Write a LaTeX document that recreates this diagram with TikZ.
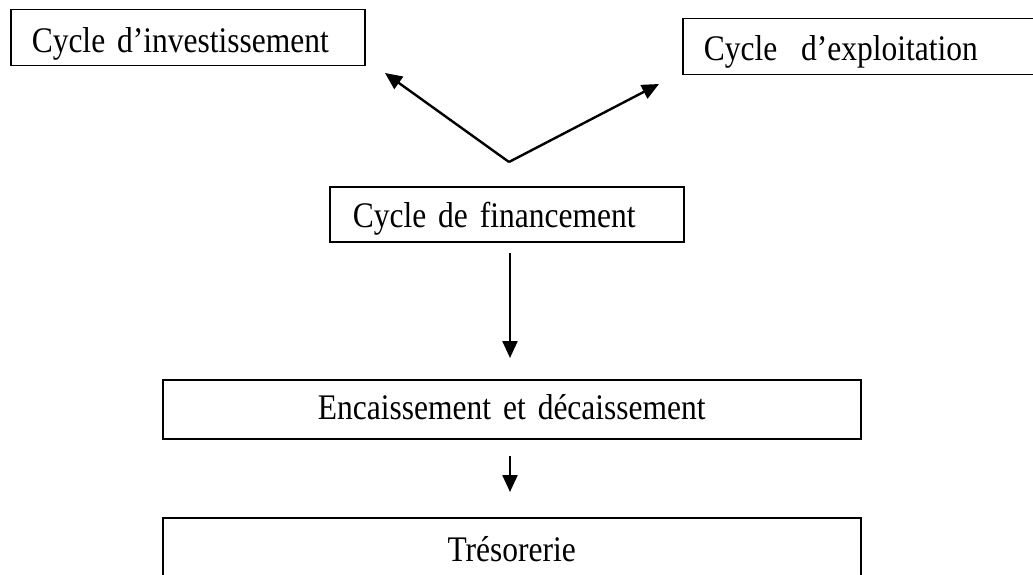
\documentclass[tikz,border=0pt]{standalone}
\usepackage{fontspec}
\setmainfont{Liberation Serif}[FakeStretch=0.875]
\DeclareRobustCommand\mywordspace[1]{\fontdimen2\font=#1\relax}
\usetikzlibrary{arrows.meta}
\begin{document}
\begin{tikzpicture}[x=1pt,y=-1pt,
  box/.style={draw=black, line width=1.5pt, rectangle, inner ysep=0pt,
    anchor=north west, font=\fontsize{36}{40}\selectfont\mywordspace{6.5pt}},
  conn/.style={line width=2.4pt, -{Triangle[length=17pt,width=15pt]}}]
\useasboundingbox (0,0) rectangle (1033,575);
% boxes
\node[box, minimum width=354pt, text height=43pt, text depth=13pt, inner xsep=21pt,
  text width=312pt, align=left] (inv) at (10,9) {Cycle d’investissement};
\node[box, minimum width=363pt, text height=42pt, text depth=14pt, inner xsep=21pt,
  text width=321pt, align=left] (exp) at (682,18) {Cycle\ \ d’exploitation};
\node[box, minimum width=354pt, text height=41pt, text depth=14pt, inner xsep=23pt,
  text width=308pt, align=left] (fin) at (329,186) {Cycle de financement};
\node[box, minimum width=698pt, text height=40pt, text depth=19pt, inner xsep=0pt,
  text width=698pt, align=center] (enc) at (162,379) {Encaissement et décaissement};
\node[box, minimum width=698pt, text height=44pt, text depth=28pt, inner xsep=0pt,
  text width=698pt, align=center] (tre) at (162,517) {Trésorerie};
% connectors
\coordinate (v) at (509,162);
\coordinate (invTip) at (385,73);
\coordinate (expTip) at (659,84);
\coordinate (finOut) at (510,253);
\coordinate (encIn) at (510,358);
\coordinate (encOut) at (510,456);
\coordinate (treIn) at (510,492);
\draw[conn] (v) -- (invTip);
\draw[conn] (v) -- (expTip);
\draw[conn] (finOut) -- (encIn);
\draw[conn] (encOut) -- (treIn);
\end{tikzpicture}
\end{document}
